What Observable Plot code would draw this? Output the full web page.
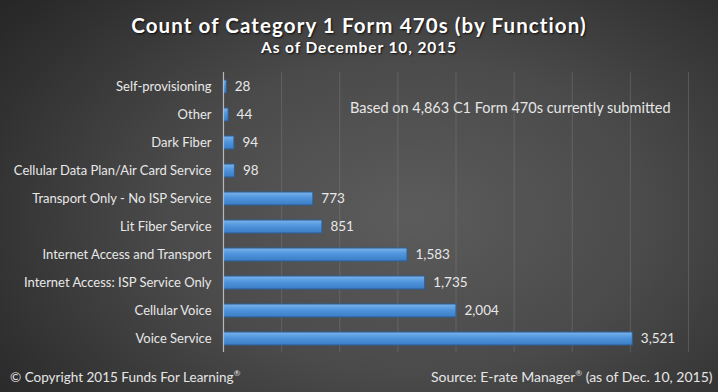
<!DOCTYPE html>
<html>
<head>
<meta charset="utf-8">
<script src="https://cdn.jsdelivr.net/npm/d3@7"></script>
<script src="https://cdn.jsdelivr.net/npm/@observablehq/plot@0.6"></script>
<style>
  html, body { margin: 0; padding: 0; }
  body { width: 718px; height: 392px; overflow: hidden; }
  #wrap {
    position: relative; width: 718px; height: 392px;
    background: radial-gradient(ellipse 75% 90% at 57% 55%, #5c5c5c 0%, #4a4a4a 45%, #2e2e2e 85%, #242424 100%);
    font-family: Lato, "Noto Sans", sans-serif; color: #ececec;
  }
  .t { position: absolute; white-space: nowrap; text-shadow: 1px 1px 2px rgba(0,0,0,0.8); }
  #title { left: 0; width: 718px; text-align: center; top: 13px; font-size: 20.5px; font-weight: bold; color: #fff; letter-spacing: 1.1px; }
  #subtitle { left: 0; width: 718px; text-align: center; top: 38px; font-size: 15.5px; font-weight: bold; color: #fff; letter-spacing: 0.9px; }
  #note { left: 350px; top: 99px; font-size: 14.5px; text-shadow: none; color: #e6e6e6; }
  #copy { left: 10px; top: 368px; font-size: 13.5px; text-shadow: none; color: #e6e6e6; }
  #source { left: 431px; top: 368px; font-size: 14px; text-shadow: none; color: #e6e6e6; }
  #chart { position: absolute; left: 0; top: 0; }
  sup { font-size: 8px; }
</style>
</head>
<body>
<div id="wrap">
  <div id="chart"></div>
  <div class="t" id="title">Count of Category 1 Form 470s (by Function)</div>
  <div class="t" id="subtitle">As of December 10, 2015</div>
  <div class="t" id="note">Based on 4,863 C1 Form 470s currently submitted</div>
  <div class="t" id="copy">© Copyright 2015 Funds For Learning<sup>®</sup></div>
  <div class="t" id="source">Source: E-rate Manager<sup>®</sup> (as of Dec. 10, 2015)</div>
</div>
<script>
const categories = [
  "Self-provisioning",
  "Other",
  "Dark Fiber",
  "Cellular Data Plan/Air Card Service",
  "Transport Only - No ISP Service",
  "Lit Fiber Service",
  "Internet Access and Transport",
  "Internet Access: ISP Service Only",
  "Cellular Voice",
  "Voice Service"
];
const counts = [28, 44, 94, 98, 773, 851, 1583, 1735, 2004, 3521];
const gridTicks = [500, 1000, 1500, 2000, 2500, 3000, 3500, 4000];

const data = categories.map((c, i) => ({category: c, count: counts[i]}));
const fmt = d3.format(",");

const chart = Plot.plot({
  width: 718,
  height: 392,
  marginLeft: 223,
  marginRight: 30,
  marginTop: 72,
  marginBottom: 40,
  style: {background: "transparent", fontFamily: "Lato, 'Noto Sans', sans-serif", overflow: "visible"},
  x: {domain: [0, 4000], axis: null},
  y: {domain: categories, paddingInner: 0.54, paddingOuter: 0.27, label: null},
  marks: [
    Plot.ruleX(gridTicks, {stroke: "#8a8a8a", strokeOpacity: 0.35, strokeWidth: 1}),
    Plot.barX(data, {
      x: "count", y: "category",
      fill: "url(#barGrad)", stroke: "#2c5f94", strokeWidth: 1,
      style: "filter: drop-shadow(2px 2px 1.5px rgba(0,0,0,0.55))"
    }),
    Plot.ruleX([0], {stroke: "#b8b8b8", strokeWidth: 1.2}),
    Plot.text(data, {
      x: "count", y: "category", text: d => fmt(d.count),
      textAnchor: "start", dx: 8, fill: "#e8e8e8", fontSize: 13.5
    }),
    Plot.axisY({tickSize: 0, tickPadding: 12, fontSize: 13, color: "#e8e8e8", label: null})
  ]
});

const svg = d3.select(chart);
const defs = svg.insert("defs", ":first-child");
const g = defs.append("linearGradient").attr("id", "barGrad").attr("x1", 0).attr("y1", 0).attr("x2", 0).attr("y2", 1);
g.append("stop").attr("offset", "0%").attr("stop-color", "#7ab3ea");
g.append("stop").attr("offset", "45%").attr("stop-color", "#4f94dc");
g.append("stop").attr("offset", "100%").attr("stop-color", "#3a7dc6");

document.getElementById("chart").appendChild(chart);
</script>
</body>
</html>
